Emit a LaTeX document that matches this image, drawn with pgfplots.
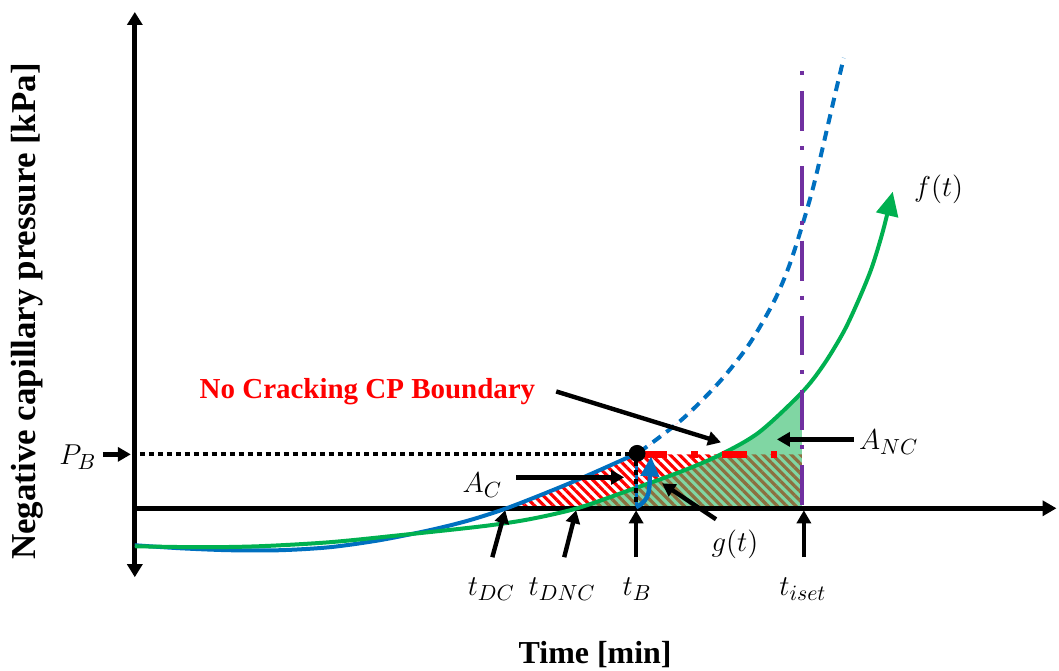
\documentclass[border=0pt]{standalone}
\usepackage{fontspec}
\setmainfont{Liberation Serif}
\usepackage{pgfplots}
\pgfplotsset{compat=1.18}
\usepgfplotslibrary{fillbetween}
\usetikzlibrary{arrows.meta,patterns.meta}
\definecolor{blueC}{HTML}{0070C0}
\definecolor{greenC}{HTML}{00B050}
\definecolor{purpleC}{HTML}{7030A0}
\definecolor{redC}{HTML}{FF0000}
\definecolor{greenF}{RGB}{128,214,163}
\definecolor{brownH}{RGB}{140,112,64}
\begin{document}
\begin{tikzpicture}
\tikzset{ann/.style={black, line width=2.2pt, -{Triangle[width=7pt,length=6.5pt]}},
  mlab/.style={font=\fontsize{15}{18}\selectfont, inner sep=0pt}}
\begin{axis}[
  width=529.5pt, height=335.5pt, scale only axis,
  xmin=0, xmax=1059, ymin=0, ymax=671, y dir=reverse,
  axis lines=none, clip=false,
]
\path (axis cs:0,0) rectangle (axis cs:1059,671);
% hidden helper paths
\addplot[draw=none, name path=axisline, forget plot] coordinates {(460,509) (900,509)};
\addplot[draw=none, name path=pbline, forget plot] coordinates {(460,455) (900,455)};
\addplot[draw=none, smooth, name path=bluefill, forget plot] coordinates {
 (470,521) (510,508) (563,487) (600,471) (640,453) (683,420) (720,383) (750,345) (775,302) (790,267) (803,227) (815,185)};
\addplot[draw=none, smooth, name path=greenfill, forget plot] coordinates {
 (483,527) (530,520) (578,509) (630,491) (680,473) (720,456) (760,433) (803,393) (825,365) (845,332)};
% fills
\addplot[draw=none, pattern={Lines[angle=-45,distance=3.3pt,line width=1.6pt]}, pattern color=redC, forget plot]
  fill between[of=bluefill and axisline, soft clip={domain=510:725}];
\addplot[draw=none, fill=white, forget plot]
  fill between[of=bluefill and pbline, soft clip={domain=638:760}];
\addplot[draw=none, fill=greenF, forget plot]
  fill between[of=greenfill and axisline, soft clip={domain=578:803}];
\addplot[draw=none, pattern={Lines[angle=-45,distance=3.3pt,line width=1.6pt]}, pattern color=brownH, forget plot]
  fill between[of=greenfill and axisline, soft clip={domain=578:803}];
\addplot[draw=none, fill=greenF, forget plot]
  fill between[of=greenfill and pbline, soft clip={domain=721:803}];
% axes
\draw[black, line width=2.5pt, {Triangle[width=7.5pt,length=6.5pt]}-{Triangle[width=7.5pt,length=6.5pt]}]
  (axis cs:135,578) -- (axis cs:135,12);
\draw[black, line width=2.5pt, -{Triangle[width=7.5pt,length=7pt]}]
  (axis cs:133,509) -- (axis cs:1058,509);
% curves
\addplot[blueC, line width=2pt, smooth] coordinates {
 (135,546) (180,549) (230,551) (280,551) (330,548) (380,541) (430,531) (470,521) (510,508) (563,487) (600,471) (640,453)};
\addplot[blueC, line width=2pt, smooth, dash pattern=on 5pt off 3.5pt] coordinates {
 (640,453) (683,420) (720,383) (750,345) (775,302) (790,267) (803,227) (815,185) (828,130) (838,87) (845,58)};
\addplot[greenC, line width=2pt, smooth, -{Triangle[width=11pt,length=12pt]}] coordinates {
 (135,547) (200,548) (260,547) (330,543) (400,536) (483,527) (530,520) (578,509) (630,491) (680,473) (720,456) (760,433) (803,393) (825,365) (845,332) (860,300) (873,268) (884,232) (894,192)};
% t_iset line
\addplot[purpleC, line width=2pt, dash pattern=on 2pt off 8pt on 20pt off 7.5pt] coordinates {(803,71) (803,509)};
% P_B line
\addplot[black, line width=2pt, dash pattern=on 2.5pt off 2pt] coordinates {(140,455) (632,455)};
\addplot[blueC, line width=1.6pt] coordinates {(637,458) (637,508)};
\addplot[black, line width=2pt, dash pattern=on 2.5pt off 2pt] coordinates {(637,462) (637,509)};
\addplot[redC, line width=3.2pt, dash pattern=on 12.5pt off 12pt on 3.5pt off 12pt] coordinates {(643,455) (778,455)};
\addplot[only marks, mark=*, mark size=4pt, black] coordinates {(638,454)};
% g(t) curved arrow
\draw[blueC, line width=2.2pt, -{Triangle[width=9pt,length=10pt]}]
  (axis cs:637,508) .. controls (axis cs:652,500) and (axis cs:650,490) .. (axis cs:652,457);
% annotation arrows
\draw[ann] (axis cs:103,455) -- (axis cs:131,455);
\draw[ann] (axis cs:517,478) -- (axis cs:625,478);
\draw[ann] (axis cs:855,440) -- (axis cs:778,440);
\draw[ann] (axis cs:557,392) -- (axis cs:722,443);
\draw[ann] (axis cs:717,520) -- (axis cs:663,484);
\draw[ann] (axis cs:493,558) -- (axis cs:506,511);
\draw[ann] (axis cs:565,558) -- (axis cs:577,511);
\draw[ann] (axis cs:637,558) -- (axis cs:637,511);
\draw[ann] (axis cs:805,558) -- (axis cs:805,511);
% labels
\node[mlab] at (axis cs:78,458) {$P_B$};
\node[mlab] at (axis cs:483,486) {$A_C$};
\node[mlab] at (axis cs:890,443) {$A_{NC}$};
\node[mlab] at (axis cs:736,545) {$g(t)$};
\node[mlab] at (axis cs:492,590) {$t_{DC}$};
\node[mlab] at (axis cs:563,590) {$t_{DNC}$};
\node[mlab] at (axis cs:638,590) {$t_B$};
\node[mlab] at (axis cs:804,590) {$t_{iset}$};
\node[mlab] at (axis cs:940,190) {$f(t)$};
\node[text=redC, font=\bfseries\fontsize{14.5}{17}\selectfont, inner sep=0pt] at (axis cs:368,392) {No Cracking CP Boundary};
\node[font=\bfseries\fontsize{16}{19}\selectfont, inner sep=0pt] at (axis cs:596,655) {Time [min]};
\node[rotate=90, font=\bfseries\fontsize{17.5}{20}\selectfont, inner sep=0pt] at (axis cs:27,312) {Negative capillary pressure [kPa]};
\end{axis}
\end{tikzpicture}
\end{document}
